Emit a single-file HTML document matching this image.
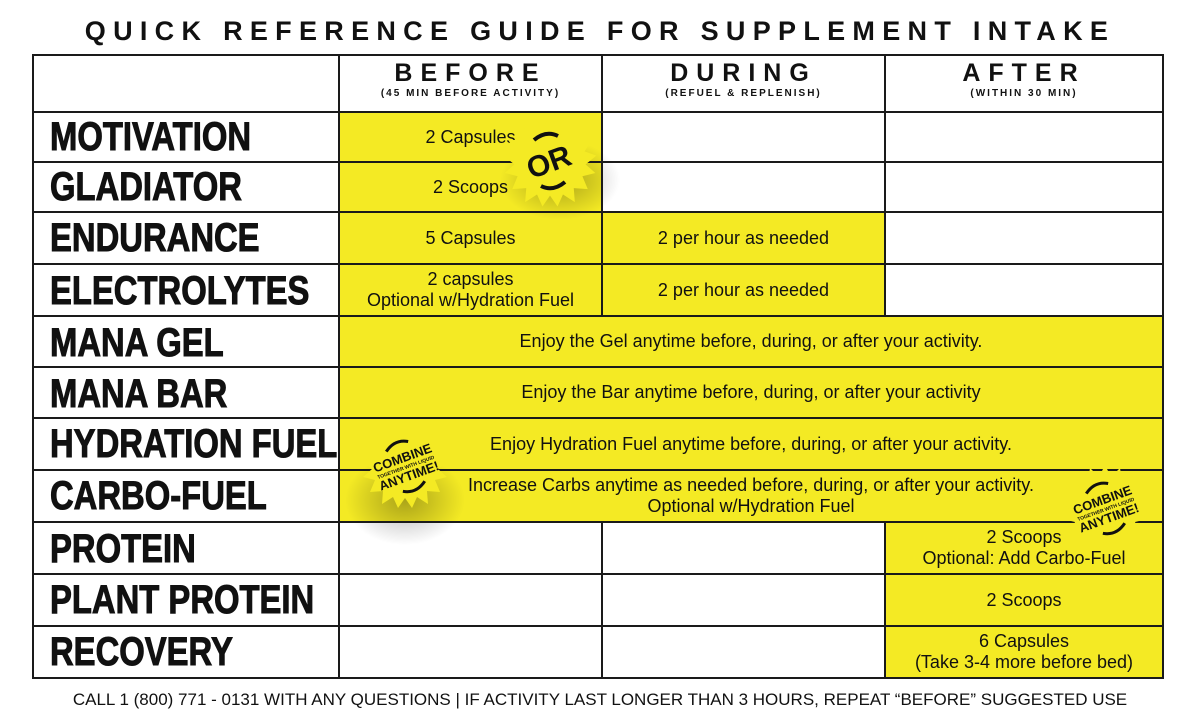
<!DOCTYPE html>
<html><head><meta charset="utf-8"><style>
body{margin:0;width:1200px;height:722px;background:#fff;position:relative;overflow:hidden;font-family:"Liberation Sans",sans-serif;color:#111}
.a{position:absolute}
.t{left:0;width:1200px;top:16px;text-align:center;font-size:27px;font-weight:bold;letter-spacing:7.3px}
.y{background:#f4ea24}
.h{position:absolute;background:#1a1a1a}
.lab{position:absolute;left:50px;font-weight:bold;font-size:40px;line-height:50px;transform:scaleX(0.82);transform-origin:left center;-webkit-text-stroke:1px #111;white-space:nowrap}
.c{position:absolute;display:flex;align-items:center;justify-content:center;text-align:center;font-size:18px;line-height:21px;letter-spacing:0px}
.hd{position:absolute;top:58px;text-align:center;font-weight:bold;font-size:25px;letter-spacing:8px;line-height:30px}
.hd small{display:block;font-size:10px;letter-spacing:2px;line-height:12px}
.f{left:0;width:1200px;top:690px;text-align:center;font-size:17px}
</style></head><body>
<div class="a t">QUICK REFERENCE GUIDE FOR SUPPLEMENT INTAKE</div>
<div class="a y" style="left:339px;top:112px;width:263px;height:100px"></div>
<div class="a y" style="left:339px;top:212px;width:546px;height:104px"></div>
<div class="a y" style="left:339px;top:316px;width:824px;height:206px"></div>
<div class="a y" style="left:885px;top:522px;width:278px;height:156px"></div>
<svg class="a" style="left:0;top:0" width="1200" height="722">
<defs><radialGradient id="g"><stop offset="0" stop-color="#000" stop-opacity=".3"/><stop offset="1" stop-color="#000" stop-opacity="0"/></radialGradient></defs>
<ellipse cx="560" cy="180" rx="60" ry="40" fill="url(#g)"/>
<ellipse cx="405" cy="500" rx="60" ry="45" fill="url(#g)"/>
</svg>
<div class="h" style="left:33px;top:54px;width:1131px;height:2px"></div>
<div class="h" style="left:33px;top:111px;width:1131px;height:2px"></div>
<div class="h" style="left:33px;top:161px;width:1131px;height:2px"></div>
<div class="h" style="left:33px;top:211px;width:1131px;height:2px"></div>
<div class="h" style="left:33px;top:263px;width:1131px;height:2px"></div>
<div class="h" style="left:33px;top:315px;width:1131px;height:2px"></div>
<div class="h" style="left:33px;top:366px;width:1131px;height:2px"></div>
<div class="h" style="left:33px;top:417px;width:1131px;height:2px"></div>
<div class="h" style="left:33px;top:469px;width:1131px;height:2px"></div>
<div class="h" style="left:33px;top:521px;width:1131px;height:2px"></div>
<div class="h" style="left:33px;top:573px;width:1131px;height:2px"></div>
<div class="h" style="left:33px;top:625px;width:1131px;height:2px"></div>
<div class="h" style="left:33px;top:677px;width:1131px;height:2px"></div>
<div class="h" style="left:32px;top:54px;width:2px;height:625px"></div>
<div class="h" style="left:338px;top:54px;width:2px;height:625px"></div>
<div class="h" style="left:601px;top:54px;width:2px;height:262px"></div>
<div class="h" style="left:601px;top:521px;width:2px;height:158px"></div>
<div class="h" style="left:884px;top:54px;width:2px;height:262px"></div>
<div class="h" style="left:884px;top:521px;width:2px;height:158px"></div>
<div class="h" style="left:1162px;top:54px;width:2px;height:625px"></div>
<div class="hd" style="left:339px;width:263px">BEFORE<small>(45 MIN BEFORE ACTIVITY)</small></div>
<div class="hd" style="left:602px;width:283px">DURING<small>(REFUEL &amp; REPLENISH)</small></div>
<div class="hd" style="left:885px;width:278px">AFTER<small>(WITHIN 30 MIN)</small></div>
<div class="lab" style="top:112px">MOTIVATION</div>
<div class="lab" style="top:162px">GLADIATOR</div>
<div class="lab" style="top:213px">ENDURANCE</div>
<div class="lab" style="top:266px">ELECTROLYTES</div>
<div class="lab" style="top:318px">MANA GEL</div>
<div class="lab" style="top:369px">MANA BAR</div>
<div class="lab" style="top:419px">HYDRATION FUEL</div>
<div class="lab" style="top:471px">CARBO-FUEL</div>
<div class="lab" style="top:524px">PROTEIN</div>
<div class="lab" style="top:575px">PLANT PROTEIN</div>
<div class="lab" style="top:627px">RECOVERY</div>
<div class="c" style="left:339px;top:112px;width:263px;height:50px">2 Capsules</div>
<div class="c" style="left:339px;top:162px;width:263px;height:50px">2 Scoops</div>
<div class="c" style="left:339px;top:212px;width:263px;height:52px">5 Capsules</div>
<div class="c" style="left:602px;top:212px;width:283px;height:52px">2 per hour as needed</div>
<div class="c" style="left:339px;top:264px;width:263px;height:52px">2 capsules<br>Optional w/Hydration Fuel</div>
<div class="c" style="left:602px;top:264px;width:283px;height:52px">2 per hour as needed</div>
<div class="c" style="left:339px;top:316px;width:824px;height:51px">Enjoy the Gel anytime before, during, or after your activity.</div>
<div class="c" style="left:339px;top:367px;width:824px;height:51px">Enjoy the Bar anytime before, during, or after your activity</div>
<div class="c" style="left:339px;top:418px;width:824px;height:52px">Enjoy Hydration Fuel anytime before, during, or after your activity.</div>
<div class="c" style="left:339px;top:470px;width:824px;height:52px">Increase Carbs anytime as needed before, during, or after your activity.<br>Optional w/Hydration Fuel</div>
<div class="c" style="left:885px;top:522px;width:278px;height:52px">2 Scoops<br>Optional: Add Carbo-Fuel</div>
<div class="c" style="left:885px;top:574px;width:278px;height:52px">2 Scoops</div>
<div class="c" style="left:885px;top:626px;width:278px;height:52px">6 Capsules<br>(Take 3-4 more before bed)</div>
<svg class="a" style="left:0;top:0" width="1200" height="722">
<polygon transform="translate(550,160) scale(1.08)" fill="#f4ea24" points="0,-42 6,-30 15,-39 17,-26 28,-31 26,-18 39,-19 32,-8 43,-4 33,4 42,12 30,15 35,27 22,26 23,39 12,32 7,43 0,33 -7,43 -12,32 -23,39 -22,26 -35,27 -30,15 -42,12 -33,4 -43,-4 -32,-8 -39,-19 -26,-18 -28,-31 -17,-26 -15,-39 -6,-30"/>
<text x="550" y="172" transform="rotate(-20 550 165)" text-anchor="middle" font-family="Liberation Sans" font-weight="bold" font-size="30" fill="#111">OR</text>
<path d="M534,140 q12,-10 24,-4" stroke="#111" stroke-width="4" fill="none"/>
<path d="M565,182 q-12,10 -24,4" stroke="#111" stroke-width="4" fill="none"/>
<polygon transform="translate(405,465)" fill="#f4ea24" points="0,-42 6,-30 15,-39 17,-26 28,-31 26,-18 39,-19 32,-8 43,-4 33,4 42,12 30,15 35,27 22,26 23,39 12,32 7,43 0,33 -7,43 -12,32 -23,39 -22,26 -35,27 -30,15 -42,12 -33,4 -43,-4 -32,-8 -39,-19 -26,-18 -28,-31 -17,-26 -15,-39 -6,-30"/>
<g transform="rotate(-20 405 465)" font-family="Liberation Sans" font-weight="bold" fill="#111" text-anchor="middle">
<text x="405" y="462" font-size="13">COMBINE</text><text x="405" y="469" font-size="5">TOGETHER WITH LIQUID</text><text x="405" y="481" font-size="13">ANYTIME!</text>
<path d="M392,446 q12,-9 24,-2" stroke="#111" stroke-width="3" fill="none"/><path d="M418,487 q-12,9 -24,2" stroke="#111" stroke-width="3" fill="none"/></g>
<polygon transform="translate(1105,507)" fill="#f4ea24" points="0,-42 6,-30 15,-39 17,-26 28,-31 26,-18 39,-19 32,-8 43,-4 33,4 42,12 30,15 35,27 22,26 23,39 12,32 7,43 0,33 -7,43 -12,32 -23,39 -22,26 -35,27 -30,15 -42,12 -33,4 -43,-4 -32,-8 -39,-19 -26,-18 -28,-31 -17,-26 -15,-39 -6,-30"/>
<g transform="rotate(-20 1105 507)" font-family="Liberation Sans" font-weight="bold" fill="#111" text-anchor="middle">
<text x="1105" y="504" font-size="13">COMBINE</text><text x="1105" y="511" font-size="5">TOGETHER WITH LIQUID</text><text x="1105" y="523" font-size="13">ANYTIME!</text>
<path d="M1092,488 q12,-9 24,-2" stroke="#111" stroke-width="3" fill="none"/><path d="M1118,529 q-12,9 -24,2" stroke="#111" stroke-width="3" fill="none"/></g>
</svg>
<div class="a f">CALL 1 (800) 771 - 0131 WITH ANY QUESTIONS | IF ACTIVITY LAST LONGER THAN 3 HOURS, REPEAT “BEFORE” SUGGESTED USE</div>
</body></html>
